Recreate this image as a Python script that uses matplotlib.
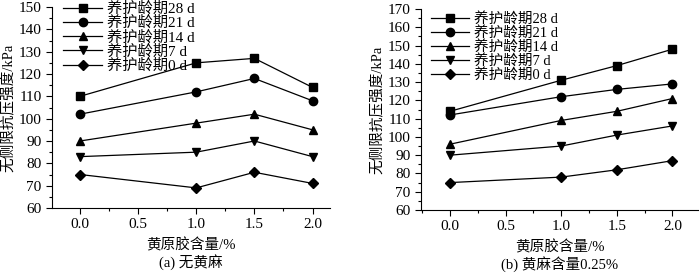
import matplotlib
matplotlib.use("Agg")
import matplotlib.pyplot as plt
from matplotlib.ticker import MultipleLocator

plt.rcParams['font.family'] = ['Liberation Serif', 'Noto Sans CJK SC']
plt.rcParams['mathtext.fontset'] = 'stix'

x = [0.0, 1.0, 1.5, 2.0]
labels = ["养护龄期28 d", "养护龄期21 d", "养护龄期14 d", "养护龄期7 d", "养护龄期0 d"]
markers = ["s", "o", "^", "v", "D"]

# (a) no jute
a_28 = [110, 125, 127, 114]
a_21 = [102, 112, 118, 108]
a_14 = [90, 98, 102, 95]
a_7 = [83, 85, 90, 83]
a_0 = [75, 69, 76, 71]

# (b) jute 0.25%
b_28 = [114, 131, 139, 148]
b_21 = [112, 122, 126, 129]
b_14 = [96, 109, 114, 121]
b_7 = [90, 95, 101, 106]
b_0 = [75, 78, 82, 87]

fig = plt.figure(figsize=(7, 2.75), dpi=100)
ax1 = fig.add_axes([52/700, 1 - 208/275, 278/700, 201/275])
ax2 = fig.add_axes([421/700, 1 - 210/275, 277/700, 201/275])


def draw(ax, series, ylim, xlim, caption, leg_size, leg_y):
    for s, lab, m in zip(series, labels, markers):
        ms = 5 if m == "D" else 6
        ax.plot(x, s, color="black", marker=m, markersize=ms, linewidth=0.9, label=lab)
    ax.set_xlim(*xlim)
    ax.set_ylim(*ylim)
    ax.set_xticks([0.0, 0.5, 1.0, 1.5, 2.0])
    ax.set_xticklabels(["0.0", "0.5", "1.0", "1.5", "2.0"])
    ax.xaxis.set_minor_locator(MultipleLocator(0.25))
    ax.yaxis.set_major_locator(MultipleLocator(10))
    ax.yaxis.set_minor_locator(MultipleLocator(5))
    ax.spines["top"].set_visible(False)
    ax.spines["right"].set_visible(False)
    ax.tick_params(which="major", length=4, width=0.8, labelsize=11, direction="out")
    ax.tick_params(which="minor", length=2, width=0.8, direction="out")
    ax.set_ylabel("无侧限抗压强度/kPa", fontsize=10.5, labelpad=2)
    ax.set_xlabel("黄原胶含量/%", fontsize=10.5, labelpad=5)
    ax.text(0.5, -0.27, caption, transform=ax.transAxes, ha="center", va="center", fontsize=10.5)
    ax.legend(loc="upper left", bbox_to_anchor=(0.0, leg_y), frameon=False, fontsize=leg_size,
              handlelength=2.6, handletextpad=0.3, labelspacing=0.0, borderaxespad=0.3)


draw(ax1, [a_28, a_21, a_14, a_7, a_0], (60, 150), (-0.24, 2.15), "(a) 无黄麻", 11, 1.08)
draw(ax2, [b_28, b_21, b_14, b_7, b_0], (60, 170), (-0.26, 2.23), "(b) 黄麻含量0.25%", 10.5, 1.035)

fig.savefig("out.png", dpi=100)
